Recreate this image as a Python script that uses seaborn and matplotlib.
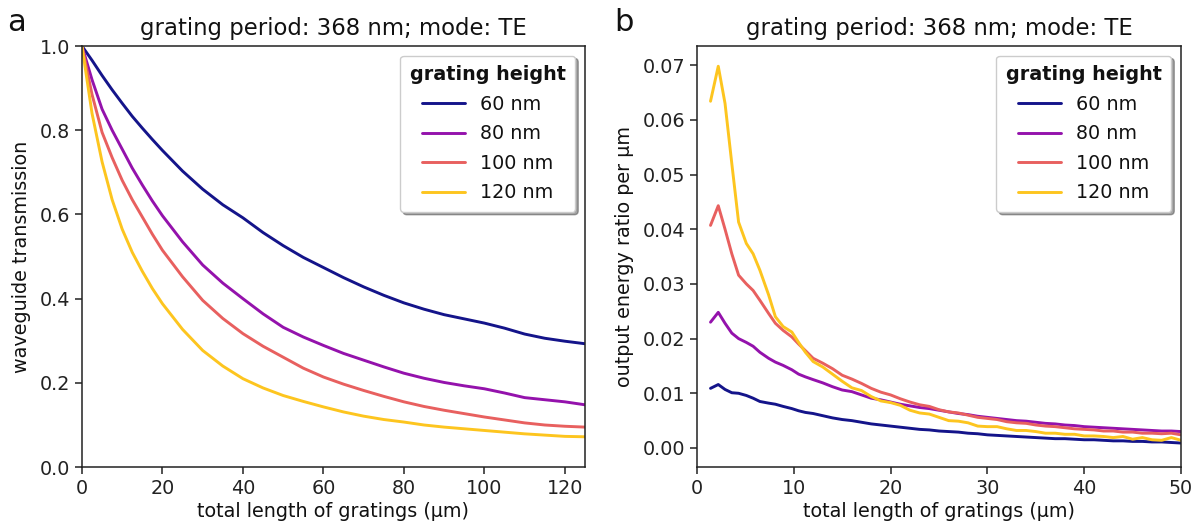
import numpy as np
import pandas as pd
import matplotlib
matplotlib.use("Agg")
import matplotlib.pyplot as plt
import seaborn as sns

# ---------------- data ----------------
heights = ["60 nm", "80 nm", "100 nm", "120 nm"]
colors = ["#14148a", "#9412ac", "#e8605f", "#fdc51f"]

# panel a: waveguide transmission vs total grating length (um)
len_a = [0, 2.5, 5, 7.5, 10, 12.5, 15, 17.5, 20, 25, 30, 35, 40, 45, 50, 55, 60,
         65, 70, 75, 80, 85, 90, 95, 100, 105, 110, 115, 120, 125]
trans_60 = [1.0, 0.966, 0.930, 0.896, 0.864, 0.833, 0.805, 0.778, 0.752, 0.703, 0.660,
            0.623, 0.592, 0.557, 0.526, 0.498, 0.474, 0.450, 0.428, 0.408, 0.390, 0.375,
            0.362, 0.352, 0.342, 0.330, 0.316, 0.306, 0.299, 0.293]
trans_80 = [1.0, 0.920, 0.850, 0.800, 0.755, 0.710, 0.670, 0.632, 0.597, 0.535, 0.480,
            0.437, 0.400, 0.364, 0.332, 0.309, 0.289, 0.270, 0.254, 0.238, 0.223, 0.211,
            0.201, 0.193, 0.186, 0.176, 0.165, 0.160, 0.155, 0.148]
trans_100 = [1.0, 0.885, 0.795, 0.735, 0.681, 0.635, 0.594, 0.553, 0.515, 0.452, 0.396,
             0.353, 0.317, 0.287, 0.261, 0.235, 0.214, 0.197, 0.182, 0.168, 0.155, 0.144,
             0.135, 0.127, 0.119, 0.112, 0.105, 0.100, 0.097, 0.095]
trans_120 = [1.0, 0.840, 0.725, 0.635, 0.565, 0.510, 0.465, 0.424, 0.388, 0.327, 0.277,
             0.240, 0.210, 0.188, 0.170, 0.156, 0.143, 0.131, 0.121, 0.113, 0.107, 0.100,
             0.095, 0.091, 0.087, 0.083, 0.079, 0.076, 0.073, 0.072]

# panel b: output energy ratio per um vs total grating length (um)
len_b = [1.4, 2.2, 2.9, 3.6, 4.3, 5.1, 5.8, 6.5, 7.4, 8.1, 8.9, 9.8, 10.5, 11.2,
         12, 13, 14, 15, 16, 17, 18, 19, 20, 21, 22, 23, 24, 25, 26, 27, 28, 29, 30,
         31, 32, 33, 34, 35, 36, 37, 38, 39, 40, 41, 42, 43, 44, 45, 46, 47, 48, 49, 50]
out_120 = [0.0634, 0.0698, 0.0630, 0.0520, 0.0413, 0.0374, 0.0355, 0.0325, 0.0280, 0.0240,
           0.0222, 0.0212, 0.0193, 0.0175, 0.0158, 0.0148, 0.0135, 0.0122, 0.0110, 0.0105,
           0.0094, 0.0086, 0.0083, 0.0078, 0.0069, 0.0064, 0.0062, 0.0056, 0.0050, 0.0049,
           0.0046, 0.0040, 0.0039, 0.0039, 0.0035, 0.0032, 0.0032, 0.0030, 0.0027, 0.0027,
           0.0025, 0.0025, 0.0022, 0.0022, 0.0021, 0.0019, 0.0021, 0.0016, 0.0019, 0.0015,
           0.0014, 0.0019, 0.0014]
out_100 = [0.0407, 0.0443, 0.0400, 0.0355, 0.0316, 0.0300, 0.0288, 0.0270, 0.0246, 0.0228,
           0.0215, 0.0203, 0.0190, 0.0178, 0.0164, 0.0155, 0.0145, 0.0133, 0.0126, 0.0118,
           0.0109, 0.0102, 0.0097, 0.0090, 0.0084, 0.0079, 0.0076, 0.0070, 0.0066, 0.0064,
           0.0060, 0.0056, 0.0054, 0.0052, 0.0048, 0.0046, 0.0045, 0.0042, 0.0040, 0.0039,
           0.0037, 0.0035, 0.0034, 0.0033, 0.0031, 0.0031, 0.0029, 0.0029, 0.0027, 0.0027,
           0.0026, 0.0027, 0.0024]
out_80 = [0.0230, 0.0248, 0.0228, 0.0210, 0.0200, 0.0193, 0.0186, 0.0175, 0.0164, 0.0157,
          0.0151, 0.0143, 0.0135, 0.0130, 0.0125, 0.0119, 0.0112, 0.0106, 0.0103, 0.0097,
          0.0091, 0.0088, 0.0084, 0.0080, 0.0077, 0.0074, 0.0072, 0.0069, 0.0066, 0.0063,
          0.0061, 0.0058, 0.0056, 0.0054, 0.0052, 0.0050, 0.0049, 0.0047, 0.0045, 0.0044,
          0.0042, 0.0041, 0.0039, 0.0038, 0.0037, 0.0036, 0.0035, 0.0034, 0.0033, 0.0032,
          0.0031, 0.0031, 0.0030]
out_60 = [0.0109, 0.0116, 0.0107, 0.0101, 0.0100, 0.0096, 0.0091, 0.0085, 0.0082, 0.0080,
          0.0076, 0.0072, 0.0068, 0.0065, 0.0063, 0.0059, 0.0055, 0.0052, 0.0050, 0.0047,
          0.0044, 0.0042, 0.0040, 0.0038, 0.0036, 0.0034, 0.0033, 0.0031, 0.0030, 0.0029,
          0.0027, 0.0026, 0.0024, 0.0023, 0.0022, 0.0021, 0.0020, 0.0019, 0.0018, 0.0017,
          0.0017, 0.0016, 0.0015, 0.0015, 0.0014, 0.0013, 0.0013, 0.0012, 0.0012, 0.0011,
          0.0011, 0.0010, 0.0009]

title_text = "grating period: 368 nm; mode: TE"
xlabel_text = "total length of gratings (µm)"
ylabel_a = "waveguide transmission"
ylabel_b = "output energy ratio per µm"
legend_title = "grating height"

# ---------------- build tables ----------------
def long_df(x, series):
    frames = []
    for h, vals in zip(heights, series):
        frames.append(pd.DataFrame({"x": x, "y": vals, "height": h}))
    return pd.concat(frames, ignore_index=True)

df_a = long_df(len_a, [trans_60, trans_80, trans_100, trans_120])
df_b = long_df(len_b, [out_60, out_80, out_100, out_120])
palette = dict(zip(heights, colors))

# ---------------- style ----------------
sns.set_style("ticks")
plt.rcParams["font.family"] = ["DejaVu Sans"]
plt.rcParams.update({
    "font.size": 13.8,
    "axes.edgecolor": "#222222",
    "axes.linewidth": 1.1,
    "xtick.color": "#222222",
    "ytick.color": "#222222",
    "xtick.major.size": 5,
    "ytick.major.size": 5,
    "xtick.major.width": 1.1,
    "ytick.major.width": 1.1,
    "xtick.labelsize": 13.8,
    "ytick.labelsize": 13.8,
    "axes.labelsize": 13.8,
    "axes.titlesize": 16.4,
    "text.color": "#111111",
    "axes.labelcolor": "#111111",
})

fig = plt.figure(figsize=(12, 5.29), dpi=100)
ax_a = fig.add_axes([0.0683, 0.117, 0.4192, 0.796])
ax_b = fig.add_axes([0.5808, 0.117, 0.4034, 0.796])

for ax, df in ((ax_a, df_a), (ax_b, df_b)):
    sns.lineplot(data=df, x="x", y="y", hue="height", hue_order=heights,
                 palette=palette, estimator=None, sort=False, lw=2.1, ax=ax)
    ax.set_title(title_text, pad=8)
    ax.set_xlabel(xlabel_text, labelpad=3)
    for s in ax.spines.values():
        s.set_visible(True)
    leg = ax.legend(title=legend_title, loc="upper right", shadow=True,
                    fancybox=True, framealpha=1.0, edgecolor="#cccccc",
                    title_fontproperties={"weight": "bold", "size": 13.8},
                    fontsize=13.8, handlelength=2.2, borderpad=0.5,
                    labelspacing=0.55)

ax_a.set_xlim(0, 125)
ax_a.set_ylim(0, 1.0)
ax_a.set_xticks([0, 20, 40, 60, 80, 100, 120])
ax_a.set_yticks([0.0, 0.2, 0.4, 0.6, 0.8, 1.0])
ax_a.set_ylabel(ylabel_a, labelpad=6)

ax_b.set_xlim(0, 50)
ax_b.set_ylim(-0.0035, 0.0735)
ax_b.set_xticks([0, 10, 20, 30, 40, 50])
ax_b.set_yticks([0.0, 0.01, 0.02, 0.03, 0.04, 0.05, 0.06, 0.07])
ax_b.set_yticklabels(["0.00", "0.01", "0.02", "0.03", "0.04", "0.05", "0.06", "0.07"])
ax_b.set_ylabel(ylabel_b, labelpad=6)

fig.text(0.006, 0.985, "a", fontsize=22, va="top", ha="left")
fig.text(0.512, 0.985, "b", fontsize=22, va="top", ha="left")

fig.savefig("out.png", dpi=100)
